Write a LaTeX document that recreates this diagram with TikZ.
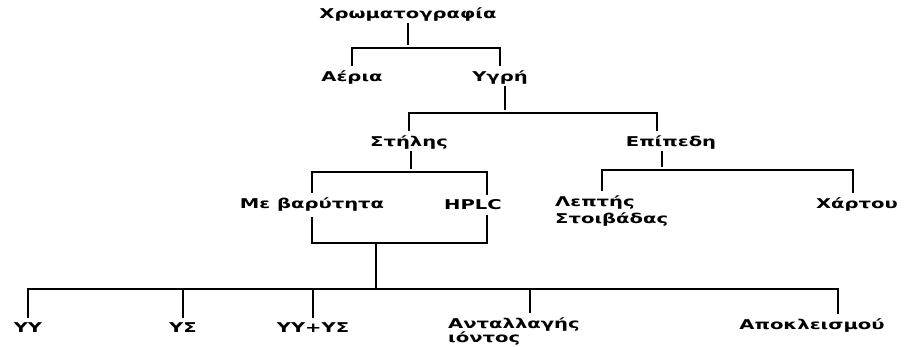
\documentclass[tikz,border=0pt]{standalone}
\usepackage{fontspec}
\setmainfont{DejaVu Sans}
\newcommand\wtxt[1]{\scalebox{1.45}[1]{#1}}
\begin{document}
\begin{tikzpicture}[
    x=1pt, y=-1pt,
    term/.style={
        inner sep=2pt,
        font=\bfseries\fontsize{13.5}{17}\selectfont
    },
    twoline/.style={
        term,
        anchor=north west,
        align=left
    },
    branch/.style={
        line width=1.7pt,
        line cap=rect,
        shorten >=4pt
    }
]
\useasboundingbox (0,0) rectangle (904,347);

\node[term] (root) at (408,15) {\wtxt{Χρωματογραφία}};

\node[term] (aeria) at (352,78) {\wtxt{Αέρια}};
\node[term] (ygri) at (500,78) {\wtxt{Υγρή}};

\node[term] (stilis) at (409,143) {\wtxt{Στήλης}};
\node[term] (epipedi) at (671,143) {\wtxt{Επίπεδη}};

\node[term] (varytita) at (312,205) {\wtxt{Με βαρύτητα}};
\node[term] (hplc) at (473,205) {\wtxt{HPLC}};
\node[twoline] (lepti) at (553,194) {\wtxt{Λεπτής}\\\wtxt{Στοιβάδας}};
\node[term] (chartou) at (857,205) {\wtxt{Χάρτου}};

\node[term] (yy) at (28,328) {\wtxt{ΥΥ}};
\node[term] (ys) at (183,328) {\wtxt{ΥΣ}};
\node[term] (yyys) at (313,328) {\wtxt{ΥΥ+ΥΣ}};
\node[twoline, font=\bfseries\fontsize{13.5}{14}\selectfont] (antall) at (446,316)
    {\wtxt{Ανταλλαγής}\\\wtxt{ιόντος}};
\node[term] (apokl) at (812,326) {\wtxt{Αποκλεισμού}};

\coordinate (j1) at (408,48);
\coordinate (j2) at (505,113);
\coordinate (j3) at (411,172);
\coordinate (j4) at (662,170);
\coordinate (j5) at (376,243);
\coordinate (j6) at (376,289);

\draw[branch] (root) -- (j1);
\draw[branch] (j1) -| (aeria.north);
\draw[branch] (j1) -| (ygri.north);

\draw[branch] (ygri.south -| j2) -- (j2);
\draw[branch] (j2) -| (stilis.north);
\draw[branch] (j2) -| ([xshift=-14pt]epipedi.north);

\draw[branch] (stilis.south -| j3) -- (j3);
\draw[branch] (j3) -| (varytita.north);
\draw[branch] (j3) -| ([xshift=14pt]hplc.north);

\draw[branch] (epipedi.south -| j4) -- (j4);
\draw[branch] (j4) -| ([xshift=49pt]lepti.north west);
\draw[branch] (j4) -| ([xshift=-4pt]chartou.north);

\draw[branch, shorten >=0pt, shorten <=4pt] (varytita.south) |- (j5);
\draw[branch, shorten >=0pt, shorten <=4pt] ([xshift=14pt]hplc.south) |- (j5);
\draw[branch, shorten >=0pt] (j5) -- (j6);

\draw[branch] (j6) -| (yy.north);
\draw[branch] (j6) -| (ys.north);
\draw[branch] (j6) -| (yyys.north);
\draw[branch] (j6) -| ([xshift=84pt]antall.north west);
\draw[branch] (j6) -| ([xshift=26pt]apokl.north);

\end{tikzpicture}
\end{document}
